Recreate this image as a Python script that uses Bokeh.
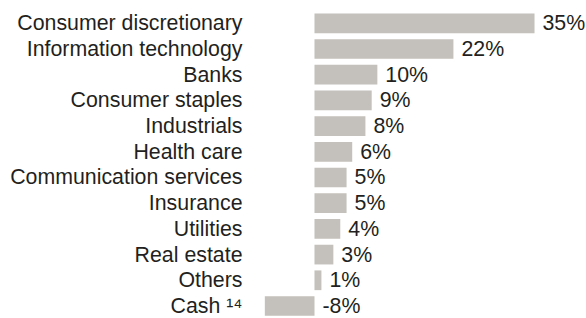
from bokeh.plotting import figure
from bokeh.models import ColumnDataSource, Range1d, FixedTicker
from bokeh.core.properties import value
from bokeh.embed import file_html
from bokeh.resources import INLINE

categories = ["Consumer discretionary", "Information technology", "Banks",
              "Consumer staples", "Industrials", "Health care",
              "Communication services", "Insurance", "Utilities",
              "Real estate", "Others", "Cash \u00b9\u2074"]
values = [35.0, 22.1, 10.0, 9.1, 8.1, 6.0, 5.1, 5.1, 4.1, 3.0, 1.1, -7.9]
value_labels = ["35%", "22%", "10%", "9%", "8%", "6%", "5%", "5%", "4%",
                "3%", "1%", "-8%"]

pos = list(range(len(categories)))
src = ColumnDataSource(dict(
    pos=pos,
    val=values,
    lab=value_labels,
    lab_x=[max(v, 0) for v in values],
))

FONT = "Liberation Sans"
TEXT_COLOR = "#231f20"
BAR_COLOR = "#c4c0bb"

p = figure(width=586, height=318, output_backend="svg", toolbar_location=None,
           x_range=Range1d(-10.18, 43.27), y_range=Range1d(11.487, -0.887),
           min_border_left=250, min_border_right=0, min_border_top=0,
           min_border_bottom=0)
p.outline_line_color = None
p.background_fill_color = "white"
p.border_fill_color = "white"
p.grid.visible = False
p.xaxis.visible = False

p.hbar(y="pos", left=0, right="val", height=0.767, source=src,
       fill_color=BAR_COLOR, line_color=None)
p.text(x="lab_x", y="pos", text="lab", source=src, x_offset=8,
       text_align="left", text_baseline="middle",
       text_font=value(FONT), text_font_size="16pt", text_color=TEXT_COLOR)

ya = p.yaxis[0]
ya.ticker = FixedTicker(ticks=pos)
ya.major_label_overrides = {i: c for i, c in zip(pos, categories)}
ya.axis_line_color = None
ya.major_tick_line_color = None
ya.minor_tick_line_color = None
ya.major_tick_out = 0
ya.major_tick_in = 0
ya.major_label_standoff = 8
ya.major_label_text_font = FONT
ya.major_label_text_font_size = "16pt"
ya.major_label_text_color = TEXT_COLOR

open("out.html", "w").write(file_html(p, INLINE))
